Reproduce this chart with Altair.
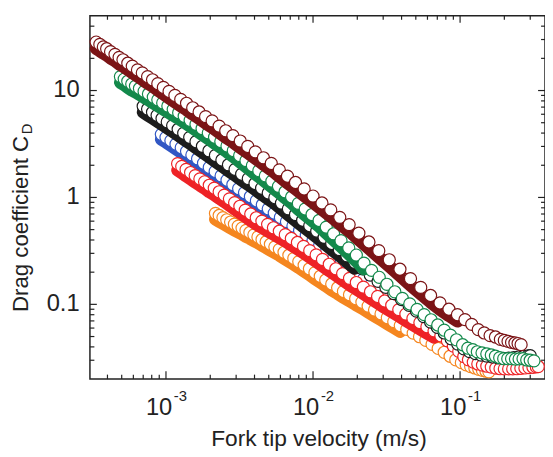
import altair as alt
import pandas as pd

FONT = "Arial, Liberation Sans, sans-serif"
INK = "#222222"
W, H = 461, 368
X_DOMAIN = [3.04e-4, 0.378]
Y_DOMAIN = [0.02, 50]

# ---- axis ticks / labels ----
x_major = [1e-3, 1e-2, 1e-1]
x_base_labels = ["10", "10", "10"]
x_exponents = ["-3", "-2", "-1"]
x_minor = [4e-4, 5e-4, 6e-4, 7e-4, 8e-4, 9e-4,
           2e-3, 3e-3, 4e-3, 5e-3, 6e-3, 7e-3, 8e-3, 9e-3,
           2e-2, 3e-2, 4e-2, 5e-2, 6e-2, 7e-2, 8e-2, 9e-2,
           0.2, 0.3]
y_major = [0.1, 1, 10]
y_labels = ["0.1", "1", "10"]
y_minor = [0.03, 0.04, 0.05, 0.06, 0.07, 0.08, 0.09,
           0.2, 0.3, 0.4, 0.5, 0.6, 0.7, 0.8, 0.9,
           2, 3, 4, 5, 6, 7, 8, 9, 20, 30, 40]
x_title = "Fork tip velocity (m/s)"
y_title = "Drag coefficient C"
y_title_sub = "D"

# ---- data (velocity m/s, drag coefficient) ----
maroon_v = [3.35e-4, 3.55e-4, 3.75e-4, 3.95e-4, 4.2e-4, 4.5e-4, 4.8e-4, 5.1e-4, 5.5e-4, 5.9e-4,
            6.4e-4, 6.9e-4, 7.5e-4, 8.1e-4, 8.8e-4, 9.6e-4, 1.05e-3, 1.15e-3, 1.26e-3, 1.38e-3,
            1.52e-3, 1.68e-3, 1.86e-3, 2.06e-3, 2.3e-3, 2.55e-3, 2.85e-3, 3.2e-3, 3.6e-3, 4.05e-3,
            4.6e-3, 5.2e-3, 5.9e-3, 6.7e-3, 7.6e-3, 8.7e-3, 1.0e-2, 1.15e-2, 1.32e-2, 1.52e-2,
            1.76e-2, 2.05e-2, 2.4e-2, 2.8e-2, 3.3e-2, 3.9e-2, 4.6e-2, 5.4e-2, 6.3e-2, 7.3e-2,
            8.4e-2, 9.6e-2, 0.108, 0.12, 0.133, 0.146, 0.16, 0.174, 0.188, 0.2,
            0.212, 0.224, 0.236, 0.248, 0.26]
maroon_open = [28.4, 27.0, 25.6, 24.6, 23.1, 21.8, 20.4, 19.4, 18.0, 16.9,
               15.6, 14.6, 13.5, 12.6, 11.6, 10.7, 9.8, 9.0, 8.25, 7.6,
               6.9, 6.3, 5.7, 5.2, 4.65, 4.2, 3.79, 3.37, 3.0, 2.67,
               2.35, 2.08, 1.81, 1.58, 1.38, 1.20, 1.03, 0.887, 0.765, 0.651,
               0.557, 0.463, 0.383, 0.318, 0.261, 0.213, 0.174, 0.144, 0.121, 0.103,
               0.090, 0.080, 0.072, 0.065, 0.058, 0.054, 0.051, 0.0495, 0.047, 0.046,
               0.045, 0.044, 0.0435, 0.043, 0.042]
maroon_fill = [24.7, 23.5, 22.3, 21.4, 20.1, 19.0, 17.7, 16.9, 15.7, 14.7,
               13.6, 12.7, 11.7, 11.0, 10.1, 9.31, 8.53, 7.83, 7.18, 6.61,
               6.0, 5.48, 4.96, 4.52, 4.05, 3.65, 3.30, 2.93, 2.61, 2.32,
               2.04, 1.81, 1.57, 1.37, 1.20, 1.04, 0.896, 0.772, 0.666, 0.566,
               0.485, 0.403, 0.333, 0.277, 0.227, 0.185, 0.151, 0.125, 0.105, 0.0896,
               0.0783, 0.0696]

green_v = [4.9e-4, 5.2e-4, 5.5e-4, 5.85e-4, 6.2e-4, 6.6e-4, 7.1e-4, 7.6e-4, 8.2e-4, 8.8e-4,
           9.5e-4, 1.03e-3, 1.12e-3, 1.22e-3, 1.33e-3, 1.46e-3, 1.6e-3, 1.76e-3, 1.94e-3, 2.14e-3,
           2.36e-3, 2.6e-3, 2.87e-3, 3.17e-3, 3.5e-3, 3.87e-3, 4.28e-3, 4.74e-3, 5.25e-3, 5.82e-3,
           6.45e-3, 7.15e-3, 7.95e-3, 8.85e-3, 9.85e-3, 1.1e-2, 1.23e-2, 1.38e-2, 1.55e-2, 1.75e-2,
           1.97e-2, 2.22e-2, 2.5e-2, 2.82e-2, 3.18e-2, 3.6e-2, 4.05e-2, 4.55e-2, 5.1e-2, 5.7e-2,
           6.35e-2, 7.05e-2, 7.8e-2, 8.6e-2, 9.45e-2, 0.104, 0.113, 0.122, 0.131, 0.141,
           0.152, 0.163, 0.174, 0.186, 0.198, 0.211, 0.224, 0.238, 0.252, 0.268,
           0.284, 0.3, 0.318]
green_open = [13.5, 12.8, 12.2, 11.5, 11.0, 10.45, 9.8, 9.28, 8.68, 8.18,
              7.66, 7.16, 6.67, 6.20, 5.74, 5.26, 4.83, 4.41, 4.02, 3.66,
              3.33, 3.03, 2.74, 2.46, 2.21, 1.98, 1.78, 1.59, 1.42, 1.27,
              1.13, 1.01, 0.88, 0.78, 0.692, 0.609, 0.528, 0.457, 0.394, 0.337,
              0.289, 0.243, 0.208, 0.179, 0.154, 0.131, 0.1136, 0.1009, 0.0898, 0.0802,
              0.0717, 0.0641, 0.0573, 0.0515, 0.0466, 0.0419, 0.0389, 0.0377, 0.036, 0.0352,
              0.0344, 0.0336, 0.0328, 0.0317, 0.031, 0.031, 0.031, 0.0308, 0.0309, 0.031,
              0.0302, 0.030, 0.0296]
green_fill = [11.9, 11.3, 10.7, 10.1, 9.68, 9.2, 8.62, 8.17, 7.64, 7.2,
              6.74, 6.3, 5.87, 5.46, 5.05, 4.63, 4.25, 3.88, 3.54, 3.22,
              2.93, 2.67, 2.41, 2.16, 1.94, 1.74, 1.57, 1.40, 1.25, 1.12,
              0.994, 0.889, 0.774, 0.686, 0.609, 0.536, 0.465, 0.402, 0.347, 0.297,
              0.254, 0.214]

black_v = [7.0e-4, 7.5e-4, 8.1e-4, 8.7e-4, 9.4e-4, 1.02e-3, 1.11e-3, 1.21e-3, 1.32e-3, 1.45e-3,
           1.6e-3, 1.77e-3, 1.96e-3, 2.17e-3, 2.4e-3, 2.66e-3, 2.95e-3, 3.27e-3, 3.63e-3, 4.03e-3,
           4.47e-3, 4.96e-3, 5.5e-3, 6.1e-3, 6.8e-3, 7.6e-3, 8.5e-3, 9.5e-3, 1.06e-2, 1.19e-2,
           1.34e-2, 1.51e-2, 1.7e-2, 1.92e-2, 2.17e-2, 2.45e-2, 2.77e-2, 3.13e-2, 3.54e-2, 4.0e-2,
           4.5e-2, 5.05e-2, 5.65e-2, 6.3e-2, 7.0e-2, 7.8e-2, 8.7e-2, 9.65e-2, 0.106, 0.116,
           0.127, 0.139, 0.152, 0.166, 0.181, 0.197, 0.214, 0.232, 0.25, 0.27,
           0.29, 0.30]
black_open = [7.13, 6.71, 6.26, 5.86, 5.47, 5.09, 4.70, 4.34, 3.99, 3.65,
              3.32, 3.01, 2.73, 2.47, 2.24, 2.02, 1.83, 1.65, 1.50, 1.35,
              1.22, 1.10, 0.995, 0.885, 0.782, 0.692, 0.612, 0.544, 0.484, 0.424,
              0.371, 0.325, 0.284, 0.247, 0.215, 0.188, 0.164, 0.144, 0.126, 0.111,
              0.0978, 0.0865, 0.0768, 0.0683, 0.061, 0.054, 0.0475, 0.0425, 0.0383, 0.0362,
              0.0346, 0.0335, 0.0328, 0.0322, 0.0316, 0.0312, 0.0314, 0.0318, 0.0322, 0.0326,
              0.033, 0.0331]
black_fill = [6.27, 5.9, 5.51, 5.16, 4.81, 4.48, 4.14, 3.82, 3.51, 3.21,
              2.92, 2.65, 2.4, 2.17, 1.97, 1.78, 1.61, 1.45, 1.32, 1.19,
              1.07, 0.968, 0.876, 0.779, 0.688, 0.609, 0.539, 0.479, 0.426, 0.373,
              0.326, 0.286, 0.25, 0.217]

blue_v = [9.3e-4, 1.0e-3, 1.08e-3, 1.17e-3, 1.27e-3, 1.38e-3, 1.5e-3, 1.64e-3, 1.8e-3, 1.97e-3,
          2.16e-3, 2.37e-3, 2.6e-3, 2.85e-3, 3.12e-3, 3.42e-3, 3.75e-3, 4.12e-3, 4.52e-3, 4.96e-3,
          5.45e-3, 6.0e-3, 6.6e-3, 7.3e-3, 8.1e-3, 9.0e-3, 1.0e-2, 1.11e-2, 1.24e-2, 1.39e-2,
          1.56e-2, 1.75e-2, 1.97e-2, 2.22e-2, 2.5e-2, 2.82e-2, 3.18e-2, 3.58e-2, 4.03e-2, 4.53e-2,
          5.1e-2, 5.75e-2, 6.5e-2, 7.3e-2, 8.2e-2, 9.2e-2, 0.1]
blue_open = [3.89, 3.65, 3.40, 3.15, 2.92, 2.70, 2.50, 2.30, 2.09, 1.91,
             1.75, 1.59, 1.45, 1.32, 1.21, 1.11, 1.02, 0.932, 0.854, 0.782,
             0.714, 0.65, 0.594, 0.541, 0.49, 0.443, 0.40, 0.359, 0.319, 0.283,
             0.251, 0.223, 0.198, 0.175, 0.156, 0.138, 0.123, 0.1095, 0.0978, 0.0876,
             0.0782, 0.0696, 0.0618, 0.0552, 0.0494, 0.0441, 0.0405]
blue_fill = [3.5, 3.29, 3.06, 2.84, 2.63, 2.43, 2.25, 2.07, 1.88, 1.72,
             1.58, 1.43, 1.31, 1.19, 1.09, 1.0, 0.918, 0.839, 0.769, 0.704,
             0.643, 0.585, 0.535, 0.487, 0.441, 0.399, 0.36]

red_v = [1.2e-3, 1.28e-3, 1.37e-3, 1.47e-3, 1.58e-3, 1.7e-3, 1.83e-3, 1.97e-3, 2.13e-3, 2.3e-3,
         2.49e-3, 2.7e-3, 2.93e-3, 3.18e-3, 3.46e-3, 3.77e-3, 4.11e-3, 4.49e-3, 4.91e-3, 5.38e-3,
         5.9e-3, 6.48e-3, 7.12e-3, 7.83e-3, 8.62e-3, 9.5e-3, 1.05e-2, 1.16e-2, 1.29e-2, 1.43e-2,
         1.59e-2, 1.77e-2, 1.97e-2, 2.2e-2, 2.46e-2, 2.75e-2, 3.07e-2, 3.43e-2, 3.83e-2, 4.28e-2,
         4.78e-2, 5.33e-2, 5.95e-2, 6.65e-2, 7.4e-2, 8.2e-2, 9.0e-2, 9.8e-2, 0.106, 0.114,
         0.123, 0.132, 0.142, 0.152, 0.163, 0.175, 0.187, 0.2, 0.214, 0.228,
         0.243, 0.259, 0.276, 0.294, 0.313, 0.33, 0.34]
red_open = [2.07, 1.95, 1.83, 1.71, 1.60, 1.49, 1.40, 1.30, 1.22, 1.13,
            1.05, 0.970, 0.894, 0.827, 0.760, 0.700, 0.645, 0.601, 0.560, 0.520,
            0.483, 0.448, 0.413, 0.379, 0.348, 0.318, 0.290, 0.263, 0.237, 0.215,
            0.194, 0.175, 0.160, 0.145, 0.131, 0.1185, 0.1075, 0.098, 0.0893, 0.0811,
            0.0738, 0.0675, 0.0618, 0.0565, 0.0508, 0.0456, 0.0407, 0.0363, 0.0325, 0.0303,
            0.0288, 0.0277, 0.0270, 0.0264, 0.0259, 0.0253, 0.025, 0.0249, 0.0249, 0.0249,
            0.025, 0.0252, 0.0254, 0.0256, 0.0258, 0.026, 0.0262]
red_fill = [1.80, 1.70, 1.59, 1.49, 1.39, 1.30, 1.22, 1.13, 1.06, 0.983,
            0.914, 0.844, 0.778, 0.719, 0.661, 0.609, 0.561, 0.523, 0.487, 0.452,
            0.42, 0.39, 0.359, 0.33, 0.303, 0.277, 0.252, 0.229, 0.206, 0.187,
            0.169, 0.152, 0.139, 0.126, 0.114, 0.103, 0.0935, 0.0853, 0.0777, 0.0706,
            0.0642, 0.0587, 0.0538, 0.0492]

orange_v = [2.17e-3, 2.3e-3, 2.44e-3, 2.59e-3, 2.75e-3, 2.92e-3, 3.1e-3, 3.29e-3, 3.5e-3, 3.72e-3,
            3.96e-3, 4.22e-3, 4.5e-3, 4.8e-3, 5.13e-3, 5.5e-3, 5.9e-3, 6.35e-3, 6.85e-3, 7.4e-3,
            8.0e-3, 8.7e-3, 9.45e-3, 1.03e-2, 1.12e-2, 1.22e-2, 1.34e-2, 1.47e-2, 1.61e-2, 1.77e-2,
            1.95e-2, 2.15e-2, 2.37e-2, 2.62e-2, 2.9e-2, 3.2e-2, 3.54e-2, 3.92e-2, 4.34e-2, 4.8e-2,
            5.3e-2, 5.85e-2, 6.45e-2, 7.1e-2, 7.8e-2, 8.55e-2, 9.35e-2, 0.102, 0.11, 0.118,
            0.126, 0.134, 0.142, 0.15, 0.157]
orange_open = [0.71, 0.678, 0.648, 0.618, 0.589, 0.562, 0.539, 0.517, 0.491, 0.470,
               0.447, 0.427, 0.404, 0.385, 0.365, 0.345, 0.327, 0.307, 0.288, 0.269,
               0.251, 0.232, 0.215, 0.198, 0.183, 0.169, 0.155, 0.143, 0.132, 0.123,
               0.113, 0.1047, 0.0962, 0.0885, 0.0814, 0.075, 0.0689, 0.0633, 0.0583, 0.0538,
               0.0498, 0.046, 0.0422, 0.0387, 0.0356, 0.0327, 0.0303, 0.0285, 0.0272, 0.0262,
               0.0254, 0.0247, 0.0241, 0.0237, 0.0234]
orange_fill = [0.625, 0.597, 0.57, 0.544, 0.518, 0.495, 0.474, 0.455, 0.432, 0.414,
               0.393, 0.376, 0.356, 0.339, 0.321, 0.304, 0.288, 0.27, 0.253, 0.237,
               0.221, 0.204, 0.189, 0.174, 0.161, 0.149, 0.136, 0.126, 0.116, 0.108,
               0.0994, 0.0921, 0.0847, 0.0779, 0.0716, 0.066, 0.0606, 0.0557]

colors = {"maroon": "#7b1416", "green": "#13894b", "black": "#1c1c1c",
          "blue": "#3157c4", "red": "#ee2226", "orange": "#f5861f"}

series = [
    ("orange", orange_v, orange_fill, orange_open),
    ("blue", blue_v, blue_fill, blue_open),
    ("red", red_v, red_fill, red_open),
    ("black", black_v, black_fill, black_open),
    ("green", green_v, green_fill, green_open),
    ("maroon", maroon_v, maroon_fill, maroon_open),
]

xs = alt.Scale(type="log", domain=X_DOMAIN, nice=False)
ys = alt.Scale(type="log", domain=Y_DOMAIN, nice=False)

data_layers = []
for name, vs, cfill, copen in series:
    col = colors[name]
    n = len(cfill)
    dfill = pd.DataFrame({"v": vs[:n], "cd": cfill})
    dopen = pd.DataFrame({"v": vs, "cd": copen})
    # dense run of filled symbols, drawn as a continuous band of filled circles
    data_layers.append(
        alt.Chart(dfill).mark_line(color=col, strokeWidth=13, strokeCap="round",
                                   strokeJoin="round", opacity=1).encode(
            x=alt.X("v:Q", scale=xs, axis=None),
            y=alt.Y("cd:Q", scale=ys, axis=None))
    )
    data_layers.append(
        alt.Chart(dopen).mark_point(shape="circle", filled=True, fill="#ffffff",
                                    stroke=col, size=150, strokeWidth=1.2,
                                    opacity=1, fillOpacity=1, strokeOpacity=1).encode(
            x=alt.X("v:Q", scale=xs, axis=None),
            y=alt.Y("cd:Q", scale=ys, axis=None))
    )


def xticks(vals, length, where):
    d = pd.DataFrame({"v": vals})
    if where == "bottom":
        enc = dict(y=alt.value(H), y2=alt.value(H - length))
    else:
        enc = dict(y=alt.value(0), y2=alt.value(length))
    return alt.Chart(d).mark_rule(color=INK, strokeWidth=1.2).encode(
        x=alt.X("v:Q", scale=xs, axis=None), **enc)


def yticks(vals, length, where):
    d = pd.DataFrame({"cd": vals})
    if where == "left":
        enc = dict(x=alt.value(0), x2=alt.value(length))
    else:
        enc = dict(x=alt.value(W), x2=alt.value(W - length))
    return alt.Chart(d).mark_rule(color=INK, strokeWidth=1.2).encode(
        y=alt.Y("cd:Q", scale=ys, axis=None), **enc)


rules = [
    xticks(x_major, 8, "bottom"), xticks(x_minor, 4.5, "bottom"),
    xticks(x_major, 7, "top"), xticks(x_minor, 4, "top"),
    yticks(y_major, 7, "left"), yticks(y_minor, 4.5, "left"),
    yticks(y_major, 7, "right"), yticks(y_minor, 4, "right"),
]

xlab_df = pd.DataFrame({"v": x_major, "b": x_base_labels, "e": x_exponents})
xlab = alt.Chart(xlab_df).mark_text(
    align="center", baseline="alphabetic", fontSize=24, dx=-7, color=INK, font=FONT
).encode(x=alt.X("v:Q", scale=xs, axis=None), y=alt.value(404), text="b:N")
xexp = alt.Chart(xlab_df).mark_text(
    align="left", baseline="alphabetic", fontSize=15, dx=8, color=INK, font=FONT
).encode(x=alt.X("v:Q", scale=xs, axis=None), y=alt.value(390), text="e:N")

ylab = alt.Chart(pd.DataFrame({"cd": y_major, "t": y_labels})).mark_text(
    align="right", baseline="middle", fontSize=24, color=INK, font=FONT
).encode(y=alt.Y("cd:Q", scale=ys, axis=None), x=alt.value(-10.5), text="t:N")

xtitle = alt.Chart(pd.DataFrame({"t": [x_title]})).mark_text(
    align="center", baseline="alphabetic", fontSize=23, color=INK, font=FONT
).encode(x=alt.value(232), y=alt.value(436), text="t:N")

ytitle = alt.Chart(pd.DataFrame({"t": [y_title]})).mark_text(
    angle=270, align="left", baseline="alphabetic", fontSize=22.5, color=INK, font=FONT
).encode(x=alt.value(-63), y=alt.value(300), text="t:N")

ysub = alt.Chart(pd.DataFrame({"t": [y_title_sub]})).mark_text(
    angle=270, align="left", baseline="alphabetic", fontSize=15, color=INK, font=FONT
).encode(x=alt.value(-59), y=alt.value(120), text="t:N")

chart = alt.layer(*rules, *data_layers, xlab, xexp, ylab, xtitle, ytitle, ysub).properties(
    width=W, height=H,
    autosize=alt.AutoSizeParams(type="none"),
    padding={"left": 83, "top": 5, "right": 0, "bottom": 74},
).configure_view(
    stroke=INK, strokeWidth=1.5
)

chart.save("out.html", embed_options={"renderer": "svg", "actions": False})
